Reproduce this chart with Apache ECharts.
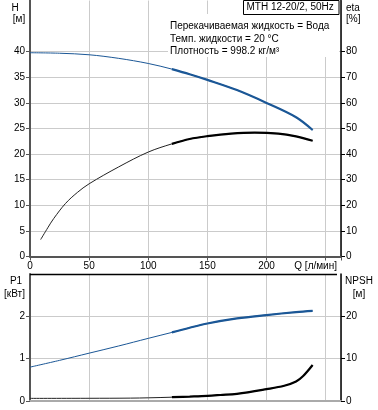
<!DOCTYPE html>
<html>
<head>
<meta charset="utf-8">
<script src="https://cdn.jsdelivr.net/npm/echarts@6/dist/echarts.min.js"></script>
<style>html,body{margin:0;padding:0;background:#fff}#c{width:378px;height:410px}</style>
</head>
<body>
<div id="c"></div>
<script>
// ---- data ----
const flowHead = [0, 25, 50, 75, 100, 120, 135, 150, 175, 200, 225, 239];
const headValues = [39.8, 39.7, 39.4, 38.7, 37.7, 36.6, 35.6, 34.5, 32.5, 30.0, 27.2, 24.7];

const flowEff = [9, 15, 20, 30, 40, 50, 75, 100, 120, 135, 150, 170, 190, 210, 225, 239];
const effValues = [6.6, 11.2, 14.8, 20.7, 25.0, 28.4, 35.0, 40.8, 44.0, 45.9, 47.0, 48.0, 48.4, 48.0, 46.9, 45.2];

const flowP1 = [0, 25, 50, 75, 100, 120, 135, 150, 175, 200, 225, 239];
const p1Values = [0.80, 0.96, 1.13, 1.30, 1.48, 1.62, 1.73, 1.83, 1.95, 2.03, 2.10, 2.13];

const flowNpsh = [0, 50, 85, 100, 120, 135, 150, 161, 175, 200, 215, 225, 231, 239];
const npshValues = [0.62, 0.64, 0.68, 0.75, 0.9, 1.05, 1.22, 1.42, 1.7, 2.8, 3.6, 4.6, 5.9, 8.5];

const operatingFrom = 120;

const flowTickLabels = [0, 50, 100, 150, 200];
const headTickLabels = [0, 5, 10, 15, 20, 25, 30, 35, 40];
const effTickLabels = [0, 10, 20, 30, 40, 50, 60, 70, 80];
const p1TickLabels = [0, 1, 2];
const npshTickLabels = [0, 10, 20];

const infoLines = ['Перекачиваемая жидкость = Вода', 'Темп. жидкости = 20 °C', 'Плотность = 998.2 кг/м³'];
const titleText = 'MTH 12-20/2, 50Hz';

// ---- build ----
const FONT = '"Liberation Sans", Arial, sans-serif';
const BLUE = '#1b5796';
const pairs = (xs, ys) => xs.map((x, i) => [x, ys[i]]);
const thick = (xs, ys) => pairs(xs, ys).filter(p => p[0] >= operatingFrom);

function lineSeries(data, xi, yi, color, width) {
  return {
    type: 'line', xAxisIndex: xi, yAxisIndex: yi, data: data,
    smooth: 0.35, showSymbol: false, symbol: 'none',
    lineStyle: { color: color, width: width }, silent: true, z: width > 1 ? 4 : 3
  };
}

const lab = { fontFamily: FONT, fontSize: 10, color: '#000' };

function xAxis(gi, showLabels, lineColor) {
  return {
    type: 'value', gridIndex: gi, min: 0, max: 263, interval: 50,
    axisLine: { show: true, onZero: false, lineStyle: { color: lineColor, width: 2 } },
    axisTick: { show: showLabels, length: 4, lineStyle: { color: '#555' } },
    axisLabel: showLabels ? Object.assign({ margin: 5, customValues: flowTickLabels }, lab) : { show: false },
    splitLine: { show: true, lineStyle: { color: '#cbcbcb', width: 1 } }
  };
}
function yAxis(gi, pos, max, interval, ticks, lineColor, lineWidth, split) {
  return {
    type: 'value', gridIndex: gi, position: pos, min: 0, max: max, interval: interval,
    axisLine: { show: true, onZero: false, lineStyle: { color: lineColor, width: lineWidth } },
    axisTick: { show: true, length: 4, customValues: ticks, lineStyle: { color: lineColor } },
    axisLabel: Object.assign({ margin: 5, customValues: ticks }, lab),
    splitLine: { show: split, lineStyle: { color: '#cbcbcb', width: 1 } }
  };
}

const txt = (x, y, s, align) => ({
  type: 'text', x: x, y: y, z: 20,
  style: { text: s, fill: '#000', font: '10px ' + FONT, textAlign: align || 'left', textVerticalAlign: 'middle' }
});

const graphic = [
  { type: 'rect', z: 15, shape: { x: 168, y: 14, width: 171, height: 43 }, style: { fill: '#fff' } },
  { type: 'rect', z: 16, shape: { x: 243.5, y: 0.5, width: 95.5, height: 14 }, style: { fill: '#fff', stroke: '#000', lineWidth: 1 } },
  txt(246.5, 7.5, titleText),
  txt(170, 26.5, infoLines[0]),
  txt(170, 39, infoLines[1]),
  txt(170, 51.5, infoLines[2]),
  txt(15, 8, 'H', 'center'),
  txt(19, 19.5, '[м]', 'center'),
  txt(346, 8.5, 'eta'),
  txt(346, 19.5, '[%]'),
  txt(337, 266.5, 'Q [л/мин]', 'right'),
  txt(16, 281, 'P1', 'center'),
  txt(14.5, 294, '[кВт]', 'center'),
  txt(359, 281, 'NPSH', 'center'),
  txt(359, 294, '[м]', 'center'),
  { type: 'line', z: 16, shape: { x1: 30, y1: 274.5, x2: 337, y2: 274.5 }, style: { stroke: '#000', lineWidth: 1.5 } }
];

const option = {
  animation: false,
  backgroundColor: '#fff',
  grid: [
    { left: 30, right: 37, top: 0.5, height: 256 },
    { left: 30, right: 37, top: 274, height: 127 }
  ],
  xAxis: [xAxis(0, true, '#555'), xAxis(1, false, '#aaa')],
  yAxis: [
    yAxis(0, 'left', 50, 5, headTickLabels, '#555', 2, true),
    yAxis(0, 'right', 100, 10, effTickLabels, '#000', 1.5, false),
    yAxis(1, 'left', 3, 1, p1TickLabels, '#555', 2, true),
    yAxis(1, 'right', 30, 10, npshTickLabels, '#000', 1.5, false)
  ],
  series: [
    lineSeries(pairs(flowHead, headValues), 0, 0, BLUE, 1),
    lineSeries(thick(flowHead, headValues), 0, 0, BLUE, 2.2),
    lineSeries(pairs(flowEff, effValues), 0, 1, '#222', 1),
    lineSeries(thick(flowEff, effValues), 0, 1, '#000', 2.2),
    lineSeries(pairs(flowP1, p1Values), 1, 2, BLUE, 1),
    lineSeries(thick(flowP1, p1Values), 1, 2, BLUE, 2.2),
    lineSeries(pairs(flowNpsh, npshValues), 1, 3, '#222', 1),
    lineSeries(thick(flowNpsh, npshValues), 1, 3, '#000', 2.2)
  ],
  graphic: graphic
};

const chart = echarts.init(document.getElementById('c'), null, { renderer: 'canvas' });
chart.setOption(option);
</script>
</body>
</html>
